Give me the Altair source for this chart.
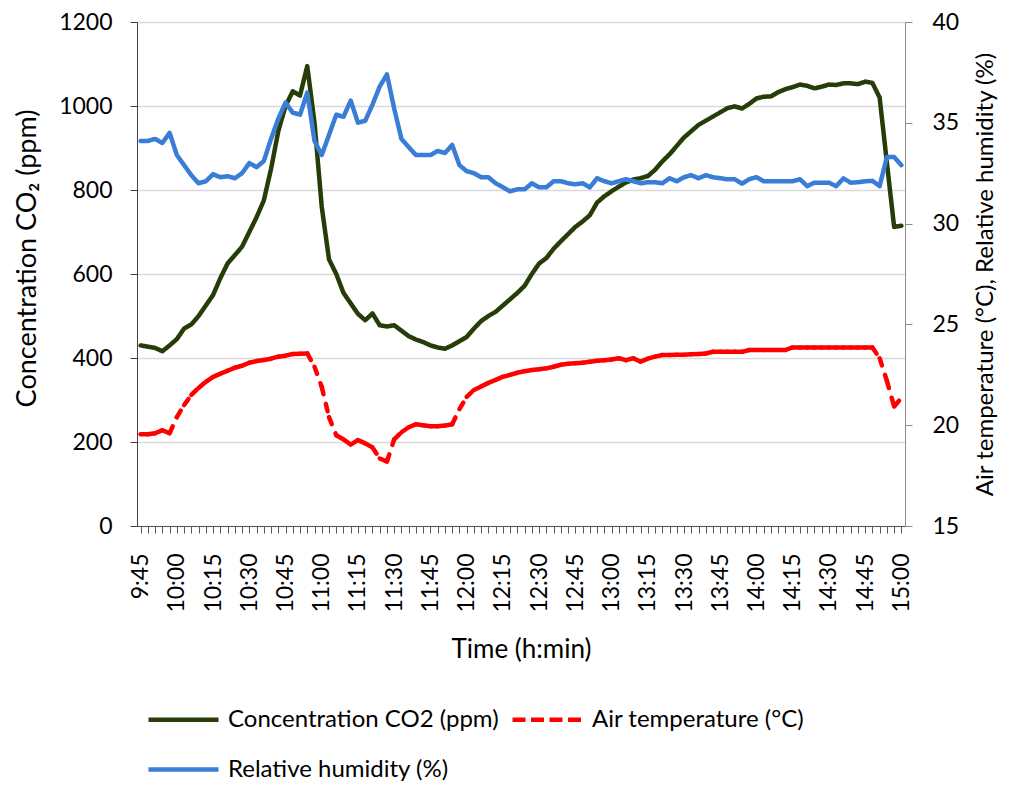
import json
import altair as alt
import pandas as pd

# ---- categories: 3-minute readings from 9:45 to 15:00 ----
times = []
for k in range(106):
    m = 9 * 60 + 45 + 3 * k
    times.append(f"{m // 60}:{m % 60:02d}")

tick_labels = ["9:45", "10:00", "10:15", "10:30", "10:45", "11:00", "11:15", "11:30",
               "11:45", "12:00", "12:15", "12:30", "12:45", "13:00", "13:15", "13:30",
               "13:45", "14:00", "14:15", "14:30", "14:45", "15:00"]

# ---- series values ----
co2 = [430, 427, 424, 416, 430, 445, 470, 480, 500, 525,
       550, 590, 625, 645, 665, 700, 735, 775, 850, 940,
       1000, 1035, 1025, 1095, 960, 760, 635, 600, 555, 530,
       505, 490, 506, 478, 475, 478, 465, 452, 444, 438,
       430, 425, 422, 430, 440, 450, 470, 488, 500, 510,
       525, 540, 555, 572, 600, 625, 638, 660, 678, 695,
       712, 725, 740, 770, 785, 797, 808, 818, 825, 828,
       833, 848, 868, 885, 905, 925, 940, 955, 965, 975,
       985, 995, 999, 994, 1005, 1018, 1022, 1023, 1033, 1040,
       1045, 1051, 1048, 1042, 1046, 1051, 1050, 1054, 1054, 1052,
       1058, 1055, 1020, 865, 712, 715]

temperature = [19.55, 19.55, 19.6, 19.75, 19.6, 20.4, 21.0, 21.5, 21.85, 22.15,
               22.4, 22.55, 22.7, 22.85, 22.95, 23.1, 23.18, 23.23, 23.3, 23.4,
               23.45, 23.53, 23.55, 23.56, 22.9, 21.9, 20.4, 19.5, 19.3, 19.04,
               19.26, 19.1, 18.9, 18.35, 18.2, 19.3, 19.65, 19.9, 20.05, 20.0,
               19.95, 19.95, 19.98, 20.05, 20.8, 21.4, 21.75, 21.92, 22.1, 22.25,
               22.4, 22.5, 22.6, 22.68, 22.74, 22.78, 22.82, 22.9, 23.0, 23.05,
               23.07, 23.1, 23.15, 23.2, 23.22, 23.26, 23.32, 23.23, 23.32, 23.15,
               23.3, 23.4, 23.48, 23.48, 23.5, 23.5, 23.52, 23.53, 23.56, 23.64,
               23.64, 23.64, 23.64, 23.64, 23.73, 23.73, 23.73, 23.73, 23.73, 23.73,
               23.86, 23.86, 23.86, 23.86, 23.86, 23.86, 23.86, 23.86, 23.86, 23.86,
               23.86, 23.86, 23.32, 22.2, 20.93, 21.35]

humidity = [34.1, 34.1, 34.2, 34.0, 34.5, 33.4, 32.9, 32.4, 32.0, 32.1,
            32.45, 32.3, 32.35, 32.25, 32.5, 33.0, 32.8, 33.1, 34.2, 35.2,
            36.0, 35.5, 35.4, 36.5, 34.1, 33.4, 34.4, 35.4, 35.3, 36.1,
            35.0, 35.1, 35.9, 36.8, 37.4, 35.7, 34.2, 33.8, 33.4, 33.4,
            33.4, 33.6, 33.5, 33.9, 32.9, 32.6, 32.5, 32.3, 32.3, 32.0,
            31.8, 31.6, 31.7, 31.7, 32.0, 31.8, 31.8, 32.1, 32.1, 32.0,
            31.95, 32.0, 31.8, 32.25, 32.1, 32.0, 32.1, 32.2, 32.1, 32.0,
            32.05, 32.05, 32.0, 32.25, 32.1, 32.3, 32.4, 32.25, 32.4, 32.3,
            32.25, 32.2, 32.2, 31.98, 32.2, 32.3, 32.1, 32.1, 32.1, 32.1,
            32.1, 32.2, 31.86, 32.03, 32.03, 32.03, 31.86, 32.24, 32.03, 32.05,
            32.1, 32.12, 31.86, 33.3, 33.3, 32.9]

series_names = ["Concentration CO2 (ppm)", "Air temperature (°C)", "Relative humidity (%)"]
series_colors = ["#263D07", "#FF0000", "#3A7DD6"]
series_dash = [[1, 0], [13, 5.5], [1, 0]]

FONT = "Lato"

df_co2 = pd.DataFrame({"time": times, "value": co2, "series": series_names[0]})
df_rh = pd.DataFrame({"time": times, "value": humidity, "series": series_names[2]})
df_t = pd.DataFrame({
    "time": times[:-1], "time2": times[1:],
    "value": temperature[:-1], "value2": temperature[1:],
    "series": series_names[1],
})

label_expr = "indexof(" + json.dumps(tick_labels) + ", datum.value) >= 0 ? datum.value : ''"

x_enc = alt.X(
    "time:O",
    scale=alt.Scale(type="point", domain=times, padding=0.5),
    axis=alt.Axis(
        title="Time (h:min)", labelExpr=label_expr, labelAngle=270, labelOverlap=False,
        tickSize=7, labelPadding=20, titlePadding=24, domainColor="#595959",
        tickColor="#595959", labelFontSize=23, titleFontSize=26, grid=False,
    ),
)

legend_opts = dict(
    title=None, orient="none", legendX=9, legendY=660, direction="horizontal",
    columns=2, symbolType="stroke", symbolSize=4900, symbolStrokeWidth=4.5,
    labelFontSize=24, labelOffset=7, columnPadding=4, rowPadding=-18, padding=0,
    labelFont=FONT, labelColor="#000000", labelLimit=500,
)

color_enc = alt.Color(
    "series:N",
    scale=alt.Scale(domain=series_names, range=series_colors),
    legend=alt.Legend(**legend_opts),
)
dash_enc = alt.StrokeDash(
    "series:N",
    scale=alt.Scale(domain=series_names, range=series_dash),
    legend=alt.Legend(**legend_opts),
)

left_scale = alt.Scale(domain=[0, 1200], nice=False, zero=False)
right_scale = alt.Scale(domain=[15, 40], nice=False, zero=False)

co2_line = alt.Chart(df_co2).mark_line(strokeWidth=4.5, strokeJoin="round", strokeCap="round").encode(
    x=x_enc,
    y=alt.Y("value:Q", scale=left_scale, axis=alt.Axis(
        title="Concentration CO₂ (ppm)", values=[0, 200, 400, 600, 800, 1000, 1200],
        format="d", grid=True, gridColor="#D9D9D9", gridWidth=1.3, tickSize=7,
        labelPadding=18, titlePadding=17, domainColor="#404040", tickColor="#404040",
        labelFontSize=23, titleFontSize=27, titleY=236, titleLimit=600,
    )),
    color=color_enc,
    strokeDash=dash_enc,
)

right_axis = alt.Axis(
    title="Air temperature (°C), Relative humidity (%)", orient="right",
    values=[15, 20, 25, 30, 35, 40], grid=False, tickSize=7, labelPadding=20,
    titlePadding=15, titleAngle=270, titleBaseline="top",
    domainColor="#8C8C8C", tickColor="#8C8C8C",
    labelFontSize=23, titleFontSize=24, titleLimit=600,
)

temp_rules = alt.Chart(df_t).mark_rule(strokeWidth=4.5, strokeCap="round", strokeDash=[7.5, 10]).encode(
    x=x_enc,
    x2="time2",
    y=alt.Y("value:Q", scale=right_scale, axis=right_axis),
    y2="value2",
    color=color_enc,
)

rh_line = alt.Chart(df_rh).mark_line(strokeWidth=4.5, strokeJoin="round", strokeCap="round").encode(
    x=x_enc,
    y=alt.Y("value:Q", scale=right_scale, axis=right_axis),
    color=color_enc,
    strokeDash=dash_enc,
)

right = alt.layer(temp_rules, rh_line)

chart = alt.layer(co2_line, right).resolve_scale(y="independent").properties(
    width=768, height=504,
    padding={"left": 5, "top": 3, "right": 2, "bottom": 0},
).configure_view(stroke=None).configure_axis(
    labelFont=FONT, titleFont=FONT, labelColor="#000000", titleColor="#000000",
    titleFontWeight="normal",
)

chart.save("out.html", embed_options={"renderer": "svg", "actions": False})
